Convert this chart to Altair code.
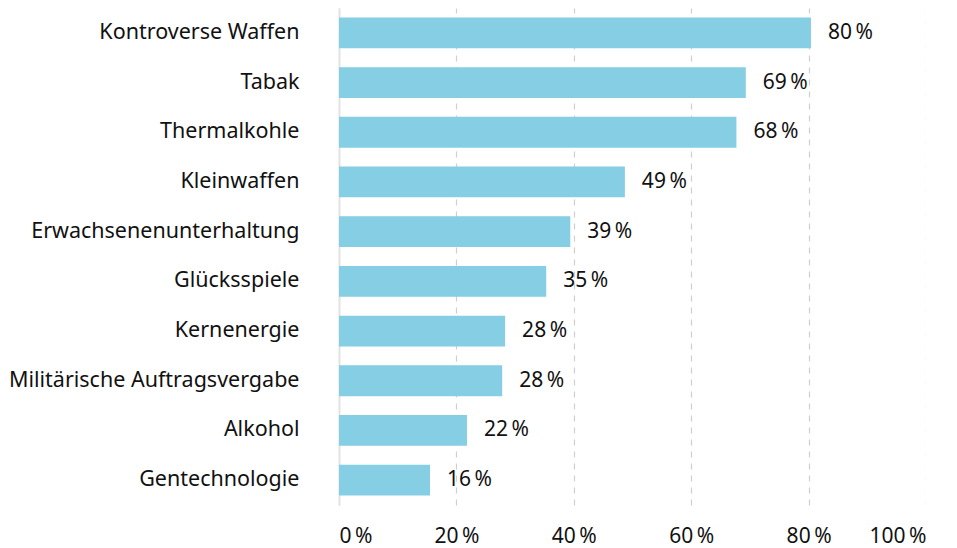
import altair as alt
import pandas as pd

categories = [
    "Kontroverse Waffen", "Tabak", "Thermalkohle", "Kleinwaffen",
    "Erwachsenenunterhaltung", "Glücksspiele", "Kernenergie",
    "Militärische Auftragsvergabe", "Alkohol", "Gentechnologie",
]
values = [80.4, 69.3, 67.7, 48.7, 39.4, 35.3, 28.3, 27.8, 21.8, 15.5]
labels = ["80\u202f%", "69\u202f%", "68\u202f%", "49\u202f%", "39\u202f%",
          "35\u202f%", "28\u202f%", "28\u202f%", "22\u202f%", "16\u202f%"]
x_ticks = [0, 20, 40, 60, 80, 100]

df = pd.DataFrame({"cat": categories, "val": values, "lab": labels})

FONT = "Noto Sans"
FS = 21

y_enc = alt.Y(
    "cat:N", sort=categories, title=None,
    scale=alt.Scale(paddingInner=0.38, paddingOuter=0.19),
    axis=alt.Axis(ticks=False, domain=True, domainColor="#e3e3e3", domainWidth=2,
                  labelPadding=40, labelFontSize=FS + 0.5, labelFont=FONT,
                  labelColor="#111111", labelLimit=400, grid=False),
)
x_enc = alt.X(
    "val:Q", title=None,
    scale=alt.Scale(domain=[0, 100], nice=False),
    axis=alt.Axis(values=x_ticks, grid=True, gridDash=[6, 6], gridColor="#cfcfcf",
                  gridWidth=1.2, domain=False, ticks=False, labelPadding=20,
                  labelFontSize=FS, labelFont=FONT, labelColor="#111111",
                  labelExpr="datum.value + '\u202f%'"),
)

bars = alt.Chart(df).mark_bar(color="#85cee3").encode(x=x_enc, y=y_enc)
text = alt.Chart(df).mark_text(align="left", baseline="middle", dx=17,
                               fontSize=FS, font=FONT, color="#111111").encode(
    x="val:Q", y=alt.Y("cat:N", sort=categories), text="lab:N")

chart = (bars + text).properties(
    width=587, height=497,
    padding={"left": 0, "top": 0, "right": 0, "bottom": 4},
).configure_view(stroke=None)

chart.save("out.html", embed_options={"renderer": "svg", "actions": False})
